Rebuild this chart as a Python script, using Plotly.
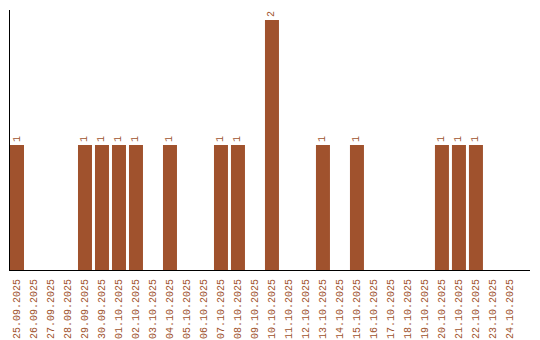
import plotly.graph_objects as go

dates = ["25.09.2025", "26.09.2025", "27.09.2025", "28.09.2025", "29.09.2025",
         "30.09.2025", "01.10.2025", "02.10.2025", "03.10.2025", "04.10.2025",
         "05.10.2025", "06.10.2025", "07.10.2025", "08.10.2025", "09.10.2025",
         "10.10.2025", "11.10.2025", "12.10.2025", "13.10.2025", "14.10.2025",
         "15.10.2025", "16.10.2025", "17.10.2025", "18.10.2025", "19.10.2025",
         "20.10.2025", "21.10.2025", "22.10.2025", "23.10.2025", "24.10.2025"]
counts = [1, 0, 0, 0, 1,
          1, 1, 1, 0, 1,
          0, 0, 1, 1, 0,
          2, 0, 0, 1, 0,
          1, 0, 0, 0, 0,
          1, 1, 1, 0, 0]

color = "#A0522D"
font = "Liberation Mono"
labels = [str(v) if v > 0 else "" for v in counts]

fig = go.Figure(go.Bar(
    x=dates, y=counts,
    marker=dict(color=color, line=dict(width=0)),
    width=14/17,
    text=labels, textposition="outside", textangle=-90,
    textfont=dict(family=font, size=10, color=color),
    cliponaxis=False,
))

fig.update_layout(
    width=540, height=340,
    margin=dict(l=10, r=10, t=10, b=70, autoexpand=False),
    paper_bgcolor="white", plot_bgcolor="white",
    showlegend=False,
    font=dict(family=font, size=10, color=color),
    xaxis=dict(type="category", range=[-7/17, 30.18], automargin=False,
               showline=True, linecolor="black", linewidth=1,
               showgrid=False, ticks="", tickangle=-90, ticklabelstandoff=4,
               tickfont=dict(family=font, size=10, color=color)),
    yaxis=dict(range=[0, 2.08], showline=True, linecolor="black", linewidth=1,
               automargin=False,
               showgrid=False, zeroline=False, showticklabels=False, ticks=""),
)

fig.write_html("out.html")
